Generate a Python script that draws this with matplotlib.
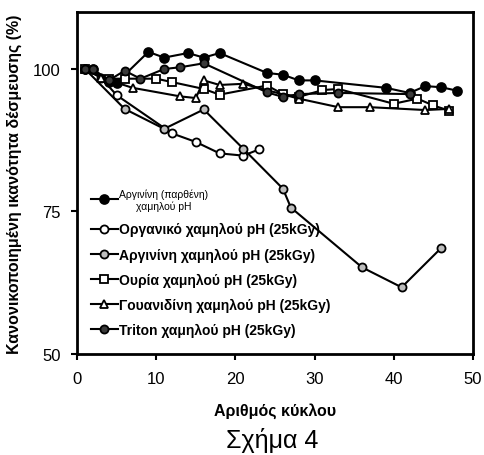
import matplotlib
matplotlib.use("Agg")
import matplotlib.pyplot as plt
import numpy as np
from matplotlib.legend_handler import HandlerLine2D

plt.rcParams['font.family'] = ['Liberation Sans', 'DejaVu Sans']

# ---- data ----
arg_virgin_x = [1, 2, 4, 5, 9, 11, 14, 16, 18, 24, 26, 28, 30, 39, 42, 44, 46, 48]
arg_virgin_y = [100, 100, 97.7, 97.6, 103.0, 102.0, 102.8, 102.0, 102.8, 99.3, 99.0, 98.0, 98.0, 96.7, 95.8, 97.0, 96.8, 96.2]

organic_x = [1, 3, 5, 12, 15, 18, 21, 23]
organic_y = [100, 98.5, 95.4, 88.7, 87.2, 85.2, 84.8, 85.9]

arg25_x = [1, 6, 11, 16, 21, 26, 27, 36, 41, 46]
arg25_y = [100, 93.0, 89.5, 92.9, 86.0, 79.0, 75.7, 65.2, 61.7, 68.6]

urea_x = [1, 4, 6, 10, 12, 16, 18, 24, 26, 28, 31, 33, 40, 43, 45, 47]
urea_y = [100, 98.3, 98.3, 98.3, 97.7, 96.5, 95.5, 97.1, 95.6, 95.1, 96.3, 96.5, 93.9, 94.8, 93.6, 92.7]

guan_x = [1, 3, 7, 13, 15, 16, 18, 21, 28, 33, 37, 44, 47]
guan_y = [100, 98.5, 96.7, 95.2, 94.9, 98.0, 97.2, 97.4, 94.8, 93.3, 93.3, 92.8, 93.0]

triton_x = [1, 2, 4, 6, 8, 11, 13, 16, 24, 26, 28, 33, 42]
triton_y = [100, 100, 98.0, 99.7, 98.3, 100.0, 100.3, 101.0, 95.9, 95.1, 95.6, 95.8, 95.6]

labels = [
    "Αργινίνη (παρθένη)\nχαμηλού pH",
    "Οργανικό χαμηλού pH (25kGy)",
    "Αργινίνη χαμηλού pH (25kGy)",
    "Ουρία χαμηλού pH (25kGy)",
    "Γουανιδίνη χαμηλού pH (25kGy)",
    "Triton χαμηλού pH (25kGy)",
]
x_ticks = [0, 10, 20, 30, 40, 50]
y_ticks = [50, 75, 100]


class RightMarkerHandler(HandlerLine2D):
    def get_xdata(self, legend, xdescent, ydescent, width, height, fontsize):
        xdata = np.array([-xdescent, -xdescent + width])
        xmark = np.array([-xdescent + 0.75 * width])
        return xdata, xmark


fig = plt.figure(figsize=(4.85, 4.56), dpi=100)
ax = fig.add_axes([0.159, 0.2215, 0.816, 0.75])

lw = 1.5
ms = 5.8
mew = 1.3
h1, = ax.plot(arg_virgin_x, arg_virgin_y, '-o', color='black', lw=lw, ms=ms + 0.6,
              mfc='black', mec='black', mew=mew)
h2, = ax.plot(organic_x, organic_y, '-o', color='black', lw=lw, ms=ms,
              mfc='white', mec='black', mew=mew)
h3, = ax.plot(arg25_x, arg25_y, '-o', color='black', lw=lw, ms=ms,
              mfc='#bdbdbd', mec='black', mew=mew)
h4, = ax.plot(urea_x, urea_y, '-s', color='black', lw=lw, ms=ms,
              mfc='white', mec='black', mew=mew)
h5, = ax.plot(guan_x, guan_y, '-^', color='black', lw=lw, ms=ms + 0.4,
              mfc='white', mec='black', mew=mew)
h6, = ax.plot(triton_x, triton_y, '-o', color='black', lw=lw, ms=ms,
              mfc='#3a3a3a', mec='black', mew=mew)

ax.set_xlim(0, 50)
ax.set_ylim(50, 110)
ax.set_xticks(x_ticks)
ax.set_yticks(y_ticks)
ax.tick_params(direction='out', length=4, width=1.5, labelsize=12)
ax.tick_params(axis='x', pad=8)
ax.tick_params(axis='y', pad=8)
for s in ax.spines.values():
    s.set_linewidth(2)

ax.set_xlabel("Αριθμός κύκλου", fontsize=11.5, fontweight='bold', labelpad=12)
ax.set_ylabel("Κανονικοποιημένη ικανότητα δέσμευσης (%)", fontsize=11.5,
              fontweight='bold', labelpad=8)
fig.text(0.561, 0.035, "Σχήμα 4", fontsize=18, ha='center', va='center')

leg = ax.legend([h1, h2, h3, h4, h5, h6], labels, loc='upper left',
                bbox_to_anchor=(0.02, 0.5), frameon=False,
                handlelength=2.0, handletextpad=0.05, labelspacing=0.8,
                borderaxespad=0.0, prop={'size': 10, 'weight': 'bold'},
                handler_map={matplotlib.lines.Line2D: RightMarkerHandler()})
t0 = leg.get_texts()[0]
t0.set_fontsize(7.5)
t0.set_fontweight('normal')
t0.set_multialignment('center')

fig.savefig("out.png", dpi=100)
